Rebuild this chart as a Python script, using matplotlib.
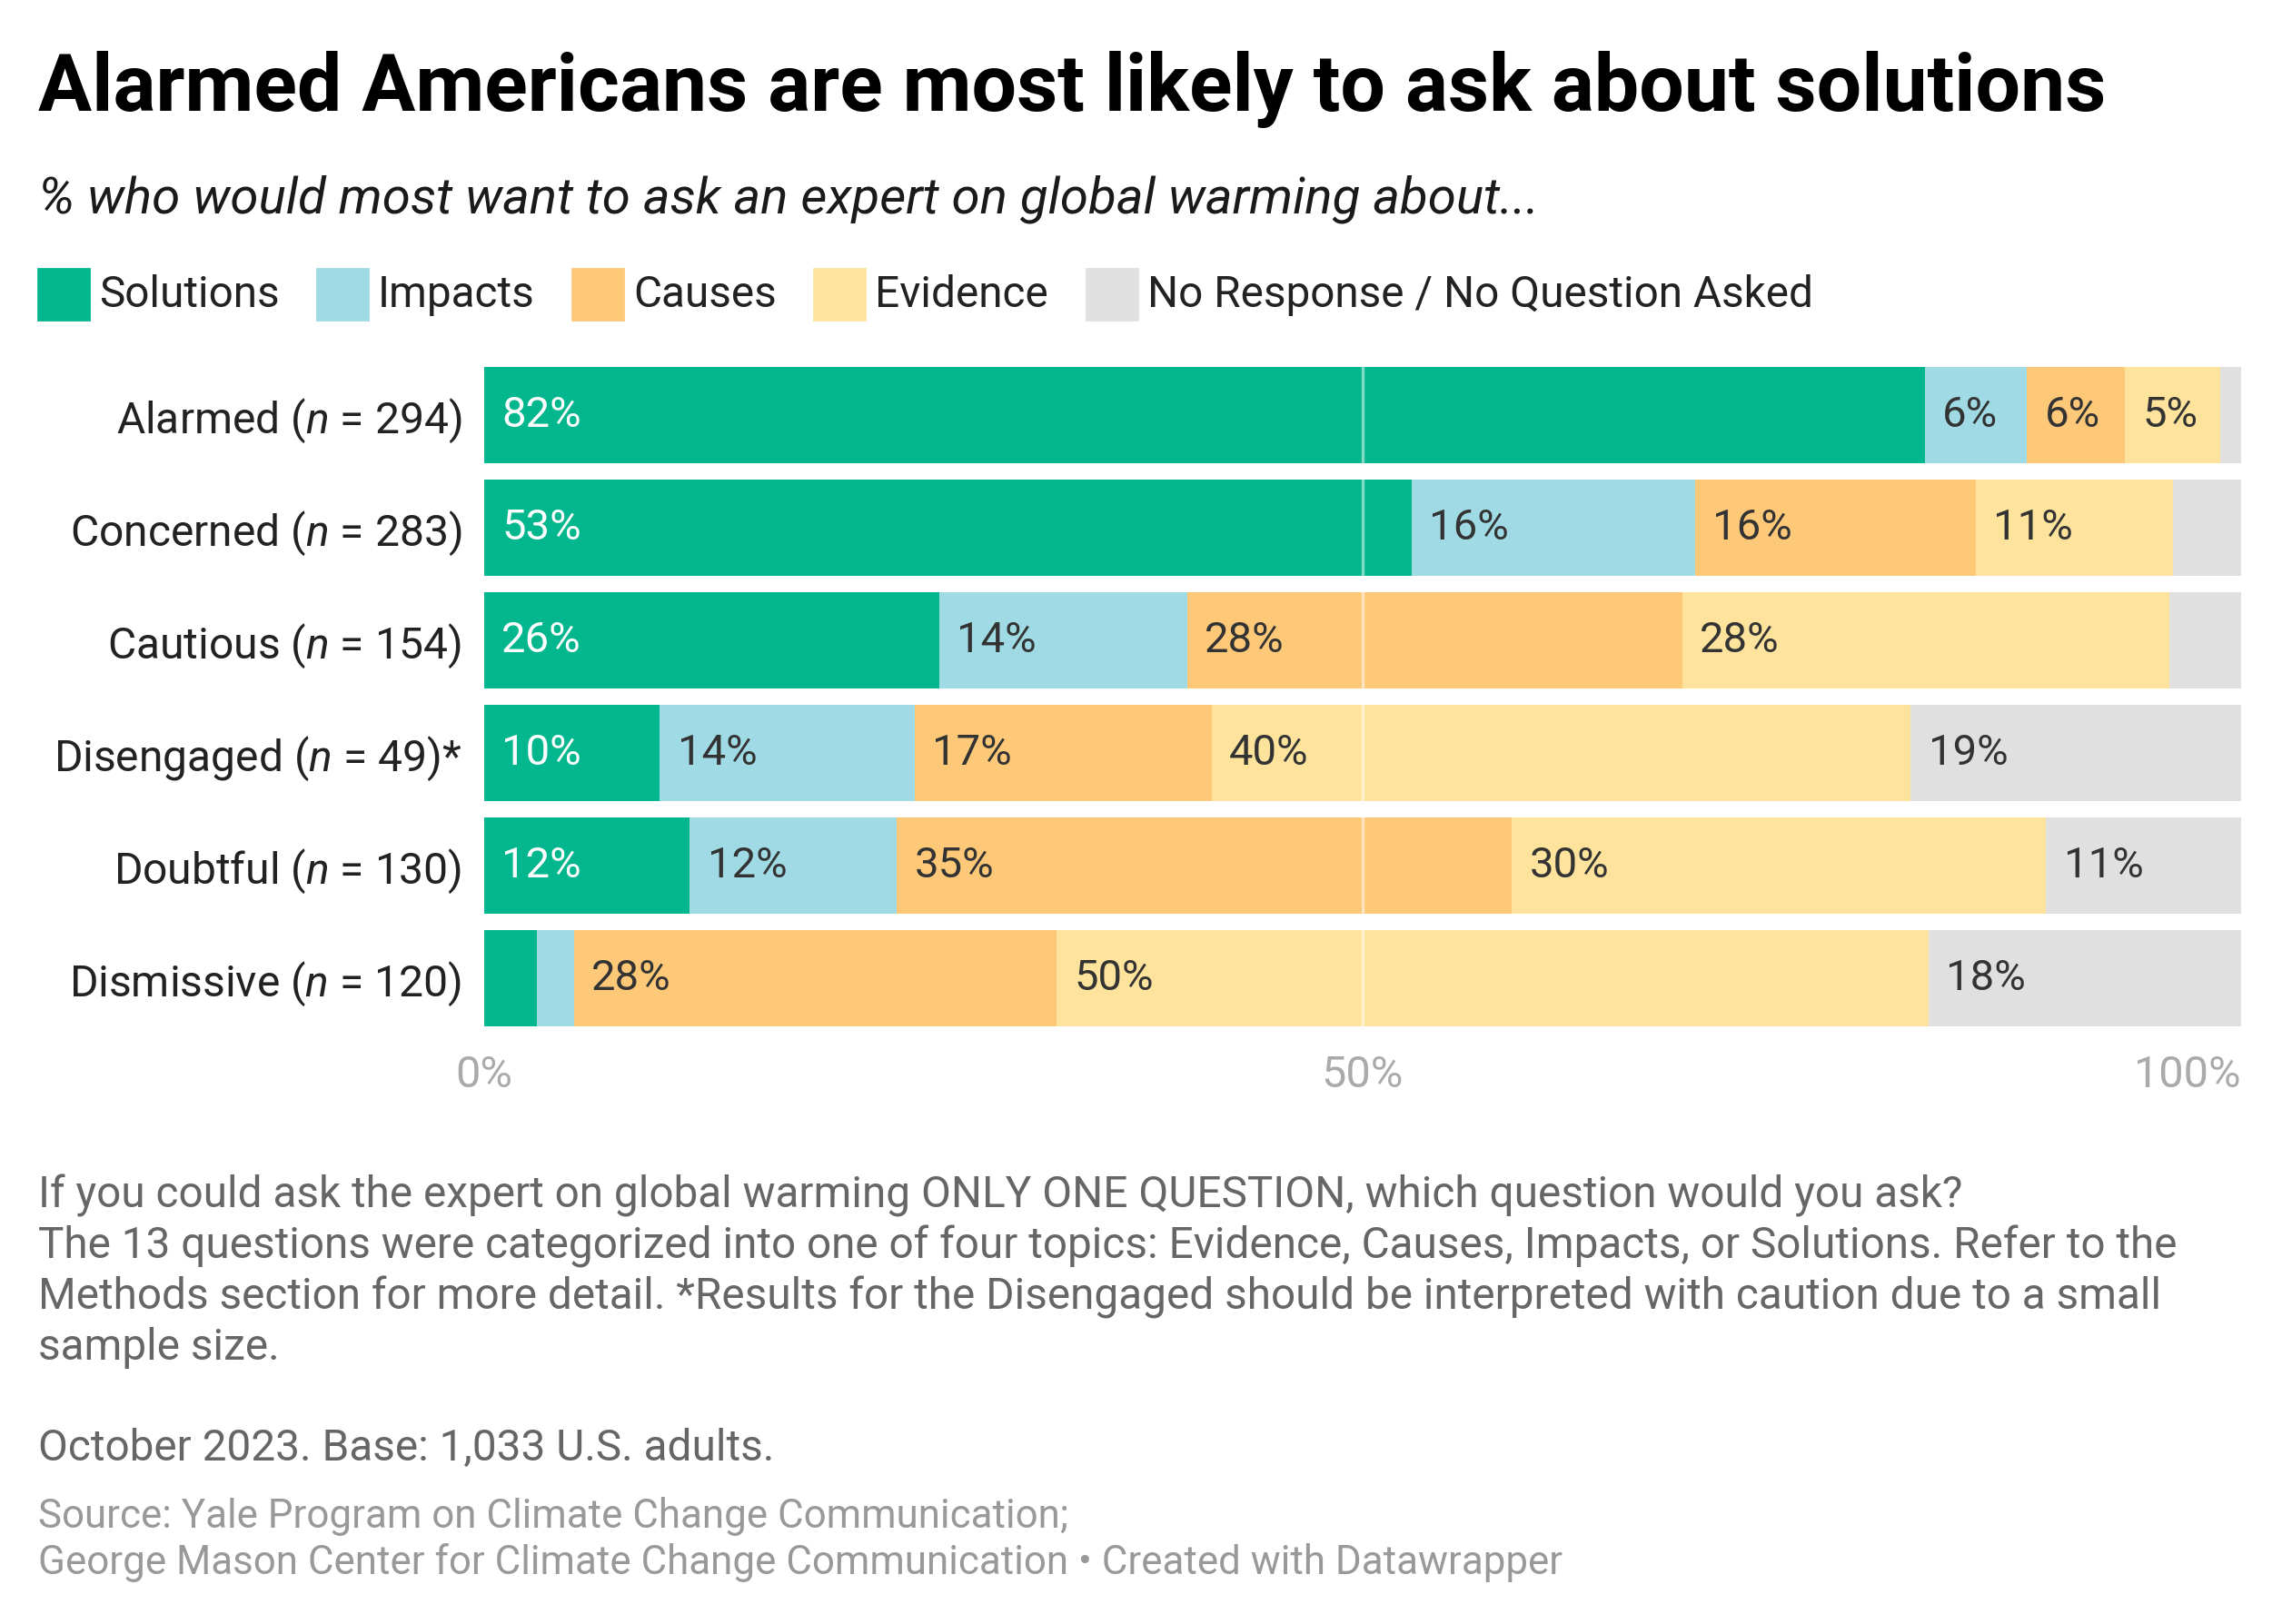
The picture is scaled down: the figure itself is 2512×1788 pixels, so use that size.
import matplotlib
matplotlib.use('Agg')
import matplotlib.pyplot as plt
import numpy as np

plt.rcParams['font.family'] = ['Roboto', 'DejaVu Sans']
plt.rcParams['mathtext.fontset'] = 'custom'
plt.rcParams['mathtext.rm'] = 'Roboto'
plt.rcParams['mathtext.it'] = 'Roboto:italic'

# Datos (porcentajes)
grupos = ['Alarmed ($n$ = 294)', 'Concerned ($n$ = 283)', 'Cautious ($n$ = 154)',
          'Disengaged ($n$ = 49)*', 'Doubtful ($n$ = 130)', 'Dismissive ($n$ = 120)']
series = ['Solutions', 'Impacts', 'Causes', 'Evidence', 'No Response / No Question Asked']
solutions = [82.0, 52.8, 25.9, 10.0, 11.7, 3.0]
impacts = [5.8, 16.1, 14.1, 14.5, 11.8, 2.1]
causes = [5.6, 16.0, 28.2, 16.9, 35.0, 27.5]
evidence = [5.4, 11.2, 27.7, 39.8, 30.4, 49.6]
no_response = [1.2, 3.9, 4.1, 18.8, 11.1, 17.8]
colores = ['#02b68d', '#a0dae4', '#fdc979', '#fee39c', '#e0e0e0']
color_texto = ['white', '#333333', '#333333', '#333333', '#333333']
ticks = [0, 50, 100]
tick_labels = ['0%', '50%', '100%']

valores = np.array([solutions, impacts, causes, evidence, no_response])

W, H = 2512, 1788
fig = plt.figure(figsize=(W / 200, H / 200), dpi=200)
ax = fig.add_axes([533 / W, 1 - 1139 / H, (2467 - 533) / W, (1139 - 395) / H])

y = np.arange(len(grupos))
izquierda = np.zeros(len(grupos))
for i, serie in enumerate(series):
    ax.barh(y, valores[i], left=izquierda, height=0.86, color=colores[i], linewidth=0, zorder=2)
    for j in range(len(grupos)):
        v = valores[i][j]
        if v >= 5 and i < 4 or (i == 4 and v >= 10):
            ax.text(izquierda[j] + 1.0, y[j], f'{round(v)}%', va='center', ha='left',
                    color=color_texto[i], fontsize=17, zorder=4)
    izquierda += valores[i]

ax.axvline(50, color='white', alpha=0.5, lw=1.2, zorder=3)

ax.set_xlim(0, 100)
ax.set_ylim(5.5, -0.5)
ax.set_yticks(y)
ax.set_yticklabels(grupos, fontsize=17.3, color='#222222')
ax.set_xticks(ticks)
ax.set_xticklabels(tick_labels, fontsize=17.5, color='#aaaaaa')
ax.tick_params(axis='both', length=0)
ax.tick_params(axis='y', pad=9)
ax.tick_params(axis='x', pad=8)
ax.get_xticklabels()[0].set_ha('center')
ax.get_xticklabels()[-1].set_ha('right')
for s in ax.spines.values():
    s.set_visible(False)

# Título y subtítulo
fig.text(42 / W, 1 - 122 / H, 'Alarmed Americans are most likely to ask about solutions',
         fontsize=31.6, fontweight='bold', color='black', va='baseline', ha='left')
fig.text(42 / W, 1 - 234 / H, '% who would most want to ask an expert on global warming about...',
         fontsize=20.3, style='italic', color='#1a1a1a', va='baseline', ha='left')

# Leyenda
leg_x = [42, 349, 630, 896, 1196]
for i, serie in enumerate(series):
    x0 = leg_x[i]
    fig.patches.append(plt.Rectangle((x0 / W, 1 - 352 / H), 56 / W, 56 / H,
                                     transform=fig.transFigure, color=colores[i], figure=fig))
    fig.text((x0 + 67) / W, 1 - 338 / H, serie, fontsize=17.2, color='#222222',
             va='baseline', ha='left')

# Notas
notas = ['If you could ask the expert on global warming ONLY ONE QUESTION, which question would you ask?',
         'The 13 questions were categorized into one of four topics: Evidence, Causes, Impacts, or Solutions. Refer to the',
         'Methods section for more detail. *Results for the Disengaged should be interpreted with caution due to a small',
         'sample size.']
for k, linea in enumerate(notas):
    fig.text(42 / W, 1 - (1330 + k * 55.6) / H, linea, fontsize=17.2, color='#666666',
             va='baseline', ha='left')
fig.text(42 / W, 1 - 1608 / H, 'October 2023. Base: 1,033 U.S. adults.', fontsize=17.2,
         color='#666666', va='baseline', ha='left')
fig.text(42 / W, 1 - 1682 / H, 'Source: Yale Program on Climate Change Communication;',
         fontsize=15.8, color='#999999', va='baseline', ha='left')
fig.text(42 / W, 1 - 1733 / H,
         'George Mason Center for Climate Change Communication \u2022 Created with Datawrapper',
         fontsize=15.8, color='#999999', va='baseline', ha='left')

fig.savefig('out.png', dpi=200, facecolor='white')
